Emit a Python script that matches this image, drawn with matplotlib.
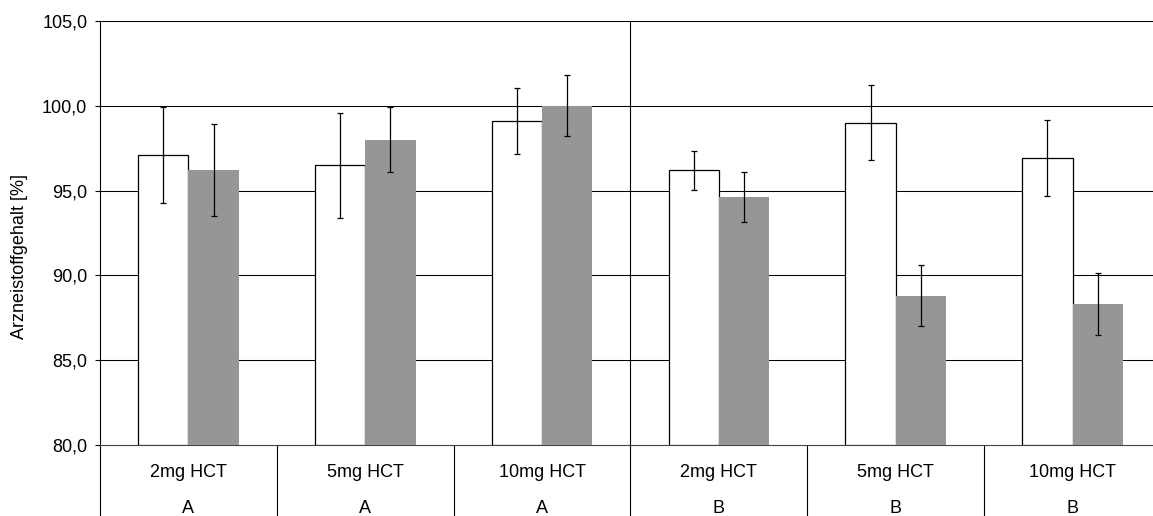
import matplotlib
matplotlib.use("Agg")
import matplotlib.pyplot as plt
import matplotlib.transforms as mtransforms
import numpy as np

plt.rcParams['font.family'] = ['Liberation Sans', 'DejaVu Sans']

# Data
doses = ["2mg HCT", "5mg HCT", "10mg HCT", "2mg HCT", "5mg HCT", "10mg HCT"]
groups = ["A", "A", "A", "B", "B", "B"]
white_means = [97.1, 96.5, 99.1, 96.2, 99.0, 96.9]
white_err = [2.85, 3.1, 1.97, 1.14, 2.22, 2.24]
gray_means = [96.2, 98.0, 100.0, 94.6, 88.8, 88.3]
gray_err = [2.7, 1.9, 1.81, 1.47, 1.79, 1.83]
y_ticks = [80, 85, 90, 95, 100, 105]

FS = 13
W, H = 1153, 516
fig = plt.figure(figsize=(W / 100, H / 100), dpi=100)
ax = fig.add_axes([100 / W, (H - 445) / H, (1161 - 100) / W, (445 - 21) / H])

x = np.arange(len(doses))
bw = 0.285
off = 0.1425

ax.bar(x - off, np.array(white_means) - 80, bw, bottom=80, color="white",
       edgecolor="black", linewidth=0.9, zorder=3)
ax.bar(x + off, np.array(gray_means) - 80, bw, bottom=80, color="#969696",
       edgecolor="none", zorder=3)
ax.errorbar(x - off, white_means, yerr=white_err, fmt="none", ecolor="black",
            elinewidth=0.9, capsize=2.5, capthick=0.9, zorder=4)
ax.errorbar(x + off, gray_means, yerr=gray_err, fmt="none", ecolor="black",
            elinewidth=0.9, capsize=2.5, capthick=0.9, zorder=4)

ax.set_xlim(-0.5, len(doses) - 0.5)
ax.set_ylim(80, 105)
ax.set_yticks(y_ticks)
ax.set_yticklabels([f"{v:.1f}".replace(".", ",") for v in y_ticks], fontsize=FS)
ax.tick_params(axis="y", direction="out", length=3.6, width=0.8, pad=5.5)
ax.set_xticks([])

for v in y_ticks[1:]:
    ax.axhline(v, color="black", linewidth=0.75, zorder=1)
ax.axvline(2.5, color="black", linewidth=0.8, zorder=2)

for s in ["right", "top"]:
    ax.spines[s].set_visible(False)
ax.spines["left"].set_linewidth(0.8)
ax.spines["bottom"].set_linewidth(0.8)
ax.spines["bottom"].set_color("#444444")

ax.set_ylabel("Arzneistoffgehalt [%]", fontsize=FS, va="center")
ax.yaxis.set_label_coords(-80 / 1061, (445 - 256.7) / 424)

# Category table below the axis
trans = mtransforms.blended_transform_factory(ax.transData, ax.transAxes)
bottom_frac = -(H - 445) / (445 - 21)
for b in np.arange(-0.5, len(doses) + 0.5, 1.0):
    ax.plot([b, b], [0, bottom_frac], transform=trans, color="black",
            linewidth=0.8, clip_on=False)
for i, (d, g) in enumerate(zip(doses, groups)):
    ax.text(i, -32.3 / 424, d, transform=trans, ha="center", va="baseline",
            fontsize=FS)
    ax.text(i, -68.3 / 424, g, transform=trans, ha="center", va="baseline",
            fontsize=FS)

fig.savefig("out.png", dpi=100)
